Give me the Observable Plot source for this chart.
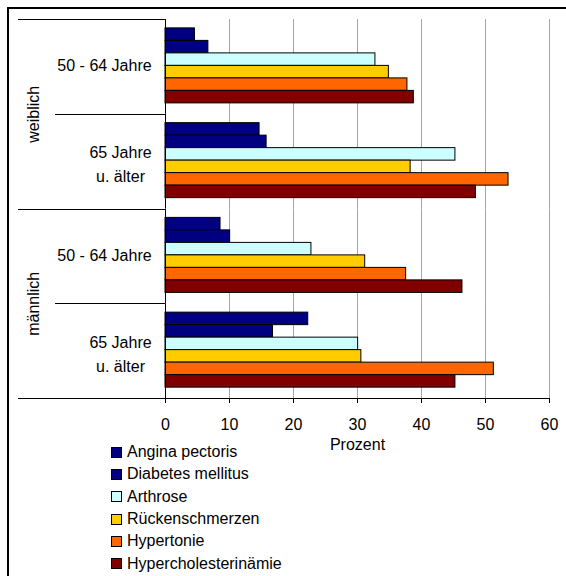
<!DOCTYPE html>
<html><head><meta charset="utf-8">
<script src="https://cdn.jsdelivr.net/npm/d3@7"></script>
<script src="https://cdn.jsdelivr.net/npm/@observablehq/plot@0.6"></script>
<style>
body{margin:0;background:#fff;font-family:"Liberation Sans",Arial,sans-serif;}
#wrap{position:relative;width:566px;height:576px;overflow:hidden;background:#fff;}
#frame{position:absolute;left:7px;top:7px;width:620px;height:620px;border-left:2px solid #000;border-top:2px solid #000;}
#chart{position:absolute;left:0;top:0;}
#legend{position:absolute;left:111px;top:441px;font-size:16px;color:#000;}
.row{display:flex;align-items:center;height:22.3px;white-space:nowrap;}
.sw{width:9px;height:9px;border:1px solid #000;margin-right:5px;flex:none;}
</style></head><body>
<div id="wrap"><div id="frame"></div><div id="chart"></div><div id="legend"></div></div>
<script>
// ---- data ----
const genders = ["weiblich", "männlich"];
const ageGroups = ["50 - 64 Jahre", "65 Jahre\nu. älter"];
const diseases = ["Angina pectoris", "Diabetes mellitus", "Arthrose", "Rückenschmerzen", "Hypertonie", "Hypercholesterinämie"];
const colors = ["#000080", "#000080", "#ccffff", "#ffcc00", "#ff6600", "#800000"];
const weiblich_50_64 = [4.6, 6.7, 32.8, 34.9, 37.8, 38.8];
const weiblich_65plus = [14.7, 15.8, 45.3, 38.3, 53.6, 48.5];
const maennlich_50_64 = [8.6, 10.1, 22.8, 31.2, 37.6, 46.4];
const maennlich_65plus = [22.3, 16.8, 30.1, 30.6, 51.3, 45.3];
const xTicks = [0, 10, 20, 30, 40, 50, 60];
const xLabel = "Prozent";

// ---- build tables ----
const series = [weiblich_50_64, weiblich_65plus, maennlich_50_64, maennlich_65plus];
const groups = [];
genders.forEach((g, gi) => ageGroups.forEach((a, ai) => groups.push({key: g + "|" + a, gender: g, age: a, values: series[gi * 2 + ai]})));
const rows = groups.flatMap(gr => diseases.map((d, i) => ({group: gr.key, disease: d, value: gr.values[i]})));

const font = '"Liberation Sans", Arial, sans-serif';
const chart = Plot.plot({
  width: 566, height: 455,
  marginLeft: 165, marginRight: 17, marginTop: 19, marginBottom: 57,
  style: {fontFamily: font, fontSize: "16px", color: "#000", background: "transparent", overflow: "visible"},
  x: {domain: [0, 60], ticks: xTicks, tickSize: 5, tickPadding: 15, label: xLabel, labelAnchor: "center", labelArrow: "none", labelOffset: 51},
  y: {domain: diseases, axis: null, paddingInner: 0, paddingOuter: 0.79, align: 0.45, round: false},
  fy: {domain: groups.map(g => g.key), axis: null, padding: 0, round: false},
  color: {domain: diseases, range: colors},
  marks: [
    Plot.ruleX(xTicks.filter(t => t > 0), {stroke: "#a6a6a6", strokeWidth: 1}),
    Plot.barX(rows, {fy: "group", y: "disease", x1: 0, x2: "value", fill: "disease", stroke: "#000", strokeWidth: 1}),
    Plot.ruleX([0], {stroke: "#000", strokeWidth: 1}),
    Plot.text(groups.filter(g => !g.age.includes("\n")), {fy: "key", text: "age", frameAnchor: "left", textAnchor: "middle", lineAnchor: "middle", dx: -61, dy: -1, fill: "#000"}),
    Plot.text(groups.filter(g => g.age.includes("\n")), {fy: "key", text: "age", frameAnchor: "left", textAnchor: "middle", lineAnchor: "middle", dx: -45, dy: 1, lineHeight: 1.5, fill: "#000"}),
    Plot.text(groups.filter((g, i) => i % 2 === 0), {fy: "key", text: "gender", frameAnchor: "bottom-left", textAnchor: "middle", lineAnchor: "middle", rotate: -90, dx: -132, fill: "#000"})
  ]
});
document.getElementById("chart").appendChild(chart);

// hierarchical category axis lines, positioned from the plot's own scales
const xs = chart.scale("x"), fys = chart.scale("fy");
const x0 = xs.apply(0), xEnd = xs.apply(60);
const bw = fys.bandwidth;
const svg = d3.select(chart);
const lines = [
  {y: fys.apply(groups[0].key), x1: 18, x2: x0},
  {y: fys.apply(groups[1].key), x1: 55, x2: x0},
  {y: fys.apply(groups[2].key), x1: 18, x2: x0},
  {y: fys.apply(groups[3].key), x1: 55, x2: x0},
  {y: fys.apply(groups[3].key) + bw, x1: 18, x2: xEnd}
];
svg.append("g").selectAll("line").data(lines).join("line")
  .attr("x1", d => d.x1).attr("x2", d => d.x2)
  .attr("y1", d => Math.round(d.y) + 0.5).attr("y2", d => Math.round(d.y) + 0.5)
  .attr("stroke", "#000").attr("stroke-width", 1);

// legend
const lg = d3.select("#legend");
diseases.forEach((d, i) => {
  const r = lg.append("div").attr("class", "row");
  r.append("div").attr("class", "sw").style("background", colors[i]);
  r.append("span").text(d);
});
</script>
</body></html>
